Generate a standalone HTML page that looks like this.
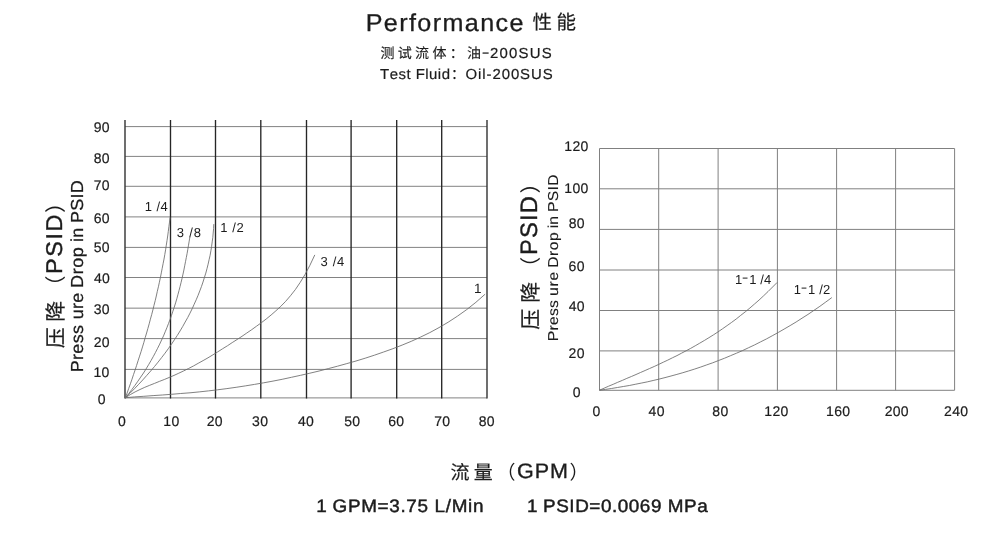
<!DOCTYPE html>
<html><head><meta charset="utf-8"><title>Performance</title>
<style>
html,body{margin:0;padding:0;background:#fff;}
svg{display:block;will-change:transform;}
text{font-family:"Liberation Sans",sans-serif;font-kerning:none;white-space:pre;text-rendering:geometricPrecision;}
text.cjk{font-family:"Liberation Sans","Noto Sans CJK SC",sans-serif;}
</style></head>
<body>
<svg width="1000" height="541" viewBox="0 0 1000 541">
<rect width="1000" height="541" fill="#fff"/>
<line x1="125.0" y1="126.6" x2="487.0" y2="126.6" stroke="#828282" stroke-width="1.0"/>
<line x1="125.0" y1="156.4" x2="487.0" y2="156.4" stroke="#828282" stroke-width="1.0"/>
<line x1="125.0" y1="186.3" x2="487.0" y2="186.3" stroke="#828282" stroke-width="1.0"/>
<line x1="125.0" y1="216.9" x2="487.0" y2="216.9" stroke="#828282" stroke-width="1.0"/>
<line x1="125.0" y1="247.4" x2="487.0" y2="247.4" stroke="#828282" stroke-width="1.0"/>
<line x1="125.0" y1="277.5" x2="487.0" y2="277.5" stroke="#828282" stroke-width="1.0"/>
<line x1="125.0" y1="308.15" x2="487.0" y2="308.15" stroke="#828282" stroke-width="1.0"/>
<line x1="125.0" y1="338.6" x2="487.0" y2="338.6" stroke="#828282" stroke-width="1.0"/>
<line x1="125.0" y1="369.4" x2="487.0" y2="369.4" stroke="#828282" stroke-width="1.0"/>
<line x1="125.0" y1="397.9" x2="487.0" y2="397.9" stroke="#828282" stroke-width="1.0"/>
<line x1="125.0" y1="120" x2="125.0" y2="398.6" stroke="#383838" stroke-width="1.45"/>
<line x1="170.5" y1="120" x2="170.5" y2="398.4" stroke="#262626" stroke-width="1.35"/>
<line x1="215.5" y1="120" x2="215.5" y2="398.4" stroke="#262626" stroke-width="1.35"/>
<line x1="260.8" y1="120" x2="260.8" y2="398.4" stroke="#262626" stroke-width="1.35"/>
<line x1="306.5" y1="120" x2="306.5" y2="398.4" stroke="#262626" stroke-width="1.35"/>
<line x1="351.1" y1="120" x2="351.1" y2="398.4" stroke="#262626" stroke-width="1.35"/>
<line x1="396.7" y1="120" x2="396.7" y2="398.4" stroke="#262626" stroke-width="1.35"/>
<line x1="441.7" y1="120" x2="441.7" y2="398.4" stroke="#262626" stroke-width="1.35"/>
<line x1="487.0" y1="120" x2="487.0" y2="398.6" stroke="#383838" stroke-width="1.45"/>
<path d="M125.4,397.7L127.1,393.1L128.7,388.5L130.4,383.8L132.0,379.2L133.5,374.6L135.1,370.0L136.6,365.4L138.1,360.7L139.6,356.1L141.1,351.5L142.5,346.9L143.9,342.3L145.2,337.6L146.6,333.0L147.9,328.4L149.2,323.8L150.4,319.2L151.7,314.5L152.9,309.9L154.0,305.3L155.2,300.7L156.3,296.0L157.3,291.4L158.4,286.8L159.4,282.2L160.4,277.6L161.3,272.9L162.2,268.3L163.1,263.7L164.0,259.1L164.8,254.5L165.6,249.8L166.3,245.2L167.0,240.6L167.7,236.0L168.3,231.4L168.9,226.7L169.5,222.1L170.1,217.5" fill="none" stroke="#6a6a6a" stroke-width="0.85" stroke-linejoin="round"/>
<path d="M125.4,397.7L128.7,393.6L131.9,389.5L135.0,385.3L137.9,381.2L140.7,377.1L143.5,373.0L146.1,368.9L148.6,364.7L151.0,360.6L153.3,356.5L155.5,352.4L157.6,348.3L159.7,344.1L161.6,340.0L163.5,335.9L165.2,331.8L166.9,327.7L168.5,323.5L170.1,319.4L171.5,315.3L172.9,311.2L174.3,307.0L175.6,302.9L176.8,298.8L177.9,294.7L179.0,290.6L180.1,286.4L181.1,282.3L182.1,278.2L183.0,274.1L183.9,270.0L184.7,265.8L185.5,261.7L186.3,257.6L187.1,253.5L187.8,249.4L188.5,245.2L189.2,241.1L189.9,237.0" fill="none" stroke="#6a6a6a" stroke-width="0.85" stroke-linejoin="round"/>
<path d="M125.4,397.7L130.0,393.2L134.4,388.8L138.7,384.3L142.8,379.9L146.8,375.4L150.7,371.0L154.5,366.5L158.1,362.1L161.6,357.6L165.0,353.2L168.3,348.7L171.4,344.3L174.4,339.8L177.3,335.4L180.1,330.9L182.7,326.5L185.2,322.0L187.7,317.6L190.0,313.1L192.2,308.7L194.2,304.2L196.2,299.8L198.1,295.3L199.8,290.9L201.5,286.4L203.0,282.0L204.4,277.5L205.8,273.1L207.0,268.6L208.1,264.2L209.1,259.7L210.1,255.3L210.9,250.8L211.6,246.4L212.2,241.9L212.8,237.5L213.2,233.0L213.6,228.6L213.8,224.1" fill="none" stroke="#6a6a6a" stroke-width="0.85" stroke-linejoin="round"/>
<path d="M125.4,397.7L130.3,394.6L135.1,391.9L140.0,389.5L144.8,387.3L149.7,385.3L154.5,383.4L159.4,381.4L164.3,379.5L169.1,377.5L174.0,375.4L178.8,373.2L183.7,370.9L188.5,368.5L193.4,366.0L198.2,363.3L203.1,360.6L208.0,357.8L212.8,354.9L217.7,351.9L222.5,348.8L227.4,345.8L232.2,342.6L237.1,339.5L242.0,336.3L246.8,333.0L251.7,329.7L256.5,326.2L261.4,322.7L266.2,319.0L271.1,315.0L275.9,310.8L280.8,306.3L285.7,301.3L290.5,295.7L295.4,289.5L300.2,282.4L305.1,274.4L309.9,265.3L314.8,254.9" fill="none" stroke="#6a6a6a" stroke-width="0.85" stroke-linejoin="round"/>
<path d="M125.4,397.7L134.6,396.9L143.8,396.3L153.1,395.6L162.3,395.0L171.5,394.3L180.7,393.5L190.0,392.8L199.2,391.9L208.4,390.9L217.6,389.8L226.9,388.6L236.1,387.3L245.3,385.9L254.5,384.4L263.7,382.8L273.0,381.1L282.2,379.3L291.4,377.3L300.6,375.3L309.9,373.2L319.1,371.0L328.3,368.6L337.5,366.2L346.8,363.6L356.0,361.0L365.2,358.2L374.4,355.2L383.6,352.0L392.9,348.7L402.1,345.1L411.3,341.3L420.5,337.1L429.8,332.6L439.0,327.6L448.2,322.2L457.4,316.2L466.7,309.6L475.9,302.3L485.1,294.2" fill="none" stroke="#6a6a6a" stroke-width="0.85" stroke-linejoin="round"/>
<text transform="translate(93.71,132.00) scale(1.0,1)" font-size="14" style="letter-spacing:0.300px" fill="#1c1c1c" stroke="#1c1c1c" stroke-width="0.2">90</text>
<text transform="translate(93.73,162.60) scale(1.0,1)" font-size="14" style="letter-spacing:0.300px" fill="#1c1c1c" stroke="#1c1c1c" stroke-width="0.2">80</text>
<text transform="translate(93.68,189.70) scale(1.0,1)" font-size="14" style="letter-spacing:0.300px" fill="#1c1c1c" stroke="#1c1c1c" stroke-width="0.2">70</text>
<text transform="translate(93.68,223.10) scale(1.0,1)" font-size="14" style="letter-spacing:0.300px" fill="#1c1c1c" stroke="#1c1c1c" stroke-width="0.2">60</text>
<text transform="translate(93.76,251.50) scale(1.0,1)" font-size="14" style="letter-spacing:0.300px" fill="#1c1c1c" stroke="#1c1c1c" stroke-width="0.2">50</text>
<text transform="translate(93.88,282.80) scale(1.0,1)" font-size="14" style="letter-spacing:0.300px" fill="#1c1c1c" stroke="#1c1c1c" stroke-width="0.2">40</text>
<text transform="translate(93.77,314.30) scale(1.0,1)" font-size="14" style="letter-spacing:0.300px" fill="#1c1c1c" stroke="#1c1c1c" stroke-width="0.2">30</text>
<text transform="translate(93.69,347.00) scale(1.0,1)" font-size="14" style="letter-spacing:0.300px" fill="#1c1c1c" stroke="#1c1c1c" stroke-width="0.2">20</text>
<text transform="translate(93.50,377.00) scale(1.0,1)" font-size="14" style="letter-spacing:0.300px" fill="#1c1c1c" stroke="#1c1c1c" stroke-width="0.2">10</text>
<text transform="translate(97.81,404.00) scale(1.0,1)" font-size="14" style="letter-spacing:0.300px" fill="#1c1c1c" stroke="#1c1c1c" stroke-width="0.2">0</text>
<text transform="translate(118.11,425.90) scale(1.0,1)" font-size="14" style="letter-spacing:0.300px" fill="#1c1c1c" stroke="#1c1c1c" stroke-width="0.2">0</text>
<text transform="translate(163.30,425.90) scale(1.0,1)" font-size="14" style="letter-spacing:0.300px" fill="#1c1c1c" stroke="#1c1c1c" stroke-width="0.2">10</text>
<text transform="translate(206.69,425.90) scale(1.0,1)" font-size="14" style="letter-spacing:0.300px" fill="#1c1c1c" stroke="#1c1c1c" stroke-width="0.2">20</text>
<text transform="translate(252.07,425.90) scale(1.0,1)" font-size="14" style="letter-spacing:0.300px" fill="#1c1c1c" stroke="#1c1c1c" stroke-width="0.2">30</text>
<text transform="translate(297.88,425.90) scale(1.0,1)" font-size="14" style="letter-spacing:0.300px" fill="#1c1c1c" stroke="#1c1c1c" stroke-width="0.2">40</text>
<text transform="translate(344.26,425.90) scale(1.0,1)" font-size="14" style="letter-spacing:0.300px" fill="#1c1c1c" stroke="#1c1c1c" stroke-width="0.2">50</text>
<text transform="translate(388.18,425.90) scale(1.0,1)" font-size="14" style="letter-spacing:0.300px" fill="#1c1c1c" stroke="#1c1c1c" stroke-width="0.2">60</text>
<text transform="translate(434.18,425.90) scale(1.0,1)" font-size="14" style="letter-spacing:0.300px" fill="#1c1c1c" stroke="#1c1c1c" stroke-width="0.2">70</text>
<text transform="translate(478.63,425.90) scale(1.0,1)" font-size="14" style="letter-spacing:0.300px" fill="#1c1c1c" stroke="#1c1c1c" stroke-width="0.2">80</text>
<text transform="translate(144.81,211.20) scale(1.0,1)" font-size="13" style="letter-spacing:0.429px;word-spacing:0.0px" fill="#1c1c1c">1 /4</text>
<text transform="translate(176.70,237.00) scale(1.0,1)" font-size="13" style="letter-spacing:0.859px;word-spacing:0.0px" fill="#1c1c1c">3 /8</text>
<text transform="translate(220.21,231.80) scale(1.0,1)" font-size="13" style="letter-spacing:0.587px;word-spacing:0.0px" fill="#1c1c1c">1 /2</text>
<text transform="translate(320.50,266.20) scale(1.0,1)" font-size="13" style="letter-spacing:0.664px;word-spacing:0.0px" fill="#1c1c1c">3 /4</text>
<text transform="translate(474.07,292.50) scale(1.0,1)" font-size="13.5" style="letter-spacing:0.000px;word-spacing:0.0px" fill="#1c1c1c">1</text>
<line x1="599.5" y1="148.5" x2="954.6" y2="148.5" stroke="#808080" stroke-width="1"/>
<line x1="599.5" y1="188.8" x2="954.6" y2="188.8" stroke="#808080" stroke-width="1"/>
<line x1="599.5" y1="229.4" x2="954.6" y2="229.4" stroke="#808080" stroke-width="1"/>
<line x1="599.5" y1="270.0" x2="954.6" y2="270.0" stroke="#808080" stroke-width="1"/>
<line x1="599.5" y1="310.5" x2="954.6" y2="310.5" stroke="#808080" stroke-width="1"/>
<line x1="599.5" y1="350.9" x2="954.6" y2="350.9" stroke="#808080" stroke-width="1"/>
<line x1="599.5" y1="390.3" x2="954.6" y2="390.3" stroke="#808080" stroke-width="1"/>
<line x1="599.5" y1="148.5" x2="599.5" y2="390.3" stroke="#808080" stroke-width="1"/>
<line x1="658.7" y1="148.5" x2="658.7" y2="390.3" stroke="#808080" stroke-width="1"/>
<line x1="718.1" y1="148.5" x2="718.1" y2="390.3" stroke="#808080" stroke-width="1"/>
<line x1="777.4" y1="148.5" x2="777.4" y2="390.3" stroke="#808080" stroke-width="1"/>
<line x1="836.6" y1="148.5" x2="836.6" y2="390.3" stroke="#808080" stroke-width="1"/>
<line x1="895.6" y1="148.5" x2="895.6" y2="390.3" stroke="#808080" stroke-width="1"/>
<line x1="954.6" y1="148.5" x2="954.6" y2="390.3" stroke="#808080" stroke-width="1"/>
<path d="M599.5,390.2L604.1,388.2L608.6,386.2L613.2,384.3L617.7,382.3L622.3,380.4L626.8,378.4L631.4,376.5L636.0,374.5L640.5,372.5L645.1,370.5L649.6,368.5L654.2,366.5L658.7,364.4L663.3,362.2L667.8,360.1L672.4,357.8L677.0,355.6L681.5,353.2L686.1,350.8L690.6,348.4L695.2,345.8L699.7,343.2L704.3,340.5L708.9,337.7L713.4,334.9L718.0,331.9L722.5,328.8L727.1,325.6L731.6,322.4L736.2,319.0L740.7,315.4L745.3,311.8L749.9,308.0L754.4,304.1L759.0,300.1L763.5,295.9L768.1,291.5L772.6,287.0L777.2,282.4" fill="none" stroke="#6a6a6a" stroke-width="0.85" stroke-linejoin="round"/>
<path d="M599.5,390.2L605.5,389.4L611.4,388.5L617.4,387.5L623.3,386.5L629.3,385.5L635.2,384.3L641.2,383.1L647.2,381.9L653.1,380.5L659.1,379.1L665.0,377.6L671.0,376.0L676.9,374.4L682.9,372.7L688.8,370.9L694.8,369.0L700.8,367.0L706.7,364.9L712.7,362.8L718.6,360.5L724.6,358.2L730.5,355.7L736.5,353.2L742.5,350.6L748.4,347.8L754.4,345.0L760.3,342.0L766.3,339.0L772.2,335.8L778.2,332.5L784.1,329.1L790.1,325.6L796.1,322.0L802.0,318.2L808.0,314.4L813.9,310.4L819.9,306.3L825.8,302.0L831.8,297.6" fill="none" stroke="#6a6a6a" stroke-width="0.85" stroke-linejoin="round"/>
<text transform="translate(564.36,150.70) scale(1.0,1)" font-size="14" style="letter-spacing:0.300px" fill="#1c1c1c" stroke="#1c1c1c" stroke-width="0.2">120</text>
<text transform="translate(564.36,193.30) scale(1.0,1)" font-size="14" style="letter-spacing:0.300px" fill="#1c1c1c" stroke="#1c1c1c" stroke-width="0.2">100</text>
<text transform="translate(568.63,228.20) scale(1.0,1)" font-size="14" style="letter-spacing:0.300px" fill="#1c1c1c" stroke="#1c1c1c" stroke-width="0.2">80</text>
<text transform="translate(568.58,271.00) scale(1.0,1)" font-size="14" style="letter-spacing:0.300px" fill="#1c1c1c" stroke="#1c1c1c" stroke-width="0.2">60</text>
<text transform="translate(568.78,310.70) scale(1.0,1)" font-size="14" style="letter-spacing:0.300px" fill="#1c1c1c" stroke="#1c1c1c" stroke-width="0.2">40</text>
<text transform="translate(568.59,358.00) scale(1.0,1)" font-size="14" style="letter-spacing:0.300px" fill="#1c1c1c" stroke="#1c1c1c" stroke-width="0.2">20</text>
<text transform="translate(572.71,396.50) scale(1.0,1)" font-size="14" style="letter-spacing:0.300px" fill="#1c1c1c" stroke="#1c1c1c" stroke-width="0.2">0</text>
<text transform="translate(592.41,415.90) scale(1.0,1)" font-size="14" style="letter-spacing:0.300px" fill="#1c1c1c" stroke="#1c1c1c" stroke-width="0.2">0</text>
<text transform="translate(648.58,415.90) scale(1.0,1)" font-size="14" style="letter-spacing:0.300px" fill="#1c1c1c" stroke="#1c1c1c" stroke-width="0.2">40</text>
<text transform="translate(712.33,415.90) scale(1.0,1)" font-size="14" style="letter-spacing:0.300px" fill="#1c1c1c" stroke="#1c1c1c" stroke-width="0.2">80</text>
<text transform="translate(764.36,415.90) scale(1.0,1)" font-size="14" style="letter-spacing:0.300px" fill="#1c1c1c" stroke="#1c1c1c" stroke-width="0.2">120</text>
<text transform="translate(826.06,415.90) scale(1.0,1)" font-size="14" style="letter-spacing:0.300px" fill="#1c1c1c" stroke="#1c1c1c" stroke-width="0.2">160</text>
<text transform="translate(884.64,415.90) scale(1.0,1)" font-size="14" style="letter-spacing:0.300px" fill="#1c1c1c" stroke="#1c1c1c" stroke-width="0.2">200</text>
<text transform="translate(944.04,415.90) scale(1.0,1)" font-size="14" style="letter-spacing:0.300px" fill="#1c1c1c" stroke="#1c1c1c" stroke-width="0.2">240</text>
<text x="734.90" y="283.9" font-size="13" fill="#1c1c1c">1</text>
<line x1="742.70" y1="278.10" x2="747.50" y2="278.10" stroke="#1c1c1c" stroke-width="1.0"/>
<text x="749.20" y="283.9" font-size="13" fill="#1c1c1c">1</text>
<text x="760.30" y="283.9" font-size="13" fill="#1c1c1c" style="letter-spacing:0.2px">/4</text>
<text x="793.80" y="293.9" font-size="13" fill="#1c1c1c">1</text>
<line x1="801.60" y1="288.10" x2="806.40" y2="288.10" stroke="#1c1c1c" stroke-width="1.0"/>
<text x="808.10" y="293.9" font-size="13" fill="#1c1c1c">1</text>
<text x="819.20" y="293.9" font-size="13" fill="#1c1c1c" style="letter-spacing:0.2px">/2</text>
<text transform="translate(365.64,30.70) scale(1.03,1)" font-size="24.4" style="letter-spacing:1.360px;word-spacing:0.0px" fill="#1c1c1c" stroke="#1c1c1c" stroke-width="0.3">Performance</text>
<text transform="translate(489.95,58.20) scale(1.03,1)" font-size="14.5" style="letter-spacing:1.186px;word-spacing:0.0px" fill="#1c1c1c" stroke="#1c1c1c" stroke-width="0.2">200SUS</text>
<text transform="translate(380.06,78.70) scale(1.03,1)" font-size="14.5" style="letter-spacing:0.467px;word-spacing:0.0px" fill="#1c1c1c" stroke="#1c1c1c" stroke-width="0.2">Test Fluid</text>
<text transform="translate(465.49,78.80) scale(1.03,1)" font-size="14.5" style="letter-spacing:0.900px;word-spacing:0.0px" fill="#1c1c1c" stroke="#1c1c1c" stroke-width="0.2">Oil-200SUS</text>
<text transform="translate(517.02,478.10) scale(1.03,1)" font-size="20.9" style="letter-spacing:0.929px;word-spacing:0.0px" fill="#1c1c1c" stroke="#1c1c1c" stroke-width="0.35">GPM</text>
<text transform="translate(316.16,511.50) scale(1.05,1)" font-size="18.0" style="letter-spacing:0.000px;word-spacing:0.0px" fill="#1c1c1c" stroke="#1c1c1c" stroke-width="0.45">1</text>
<text transform="translate(332.55,511.50) scale(1.05,1)" font-size="18.0" style="letter-spacing:0.625px;word-spacing:0.0px" fill="#1c1c1c" stroke="#1c1c1c" stroke-width="0.45">GPM=3.75 L/Min</text>
<text transform="translate(526.96,511.50) scale(1.05,1)" font-size="18.0" style="letter-spacing:0.000px;word-spacing:0.0px" fill="#1c1c1c" stroke="#1c1c1c" stroke-width="0.45">1</text>
<text transform="translate(543.05,511.50) scale(1.05,1)" font-size="18.0" style="letter-spacing:0.516px;word-spacing:0.0px" fill="#1c1c1c" stroke="#1c1c1c" stroke-width="0.45">PSID=0.0069 MPa</text>
<text transform="translate(62.30,273.93) rotate(-90) scale(1.03,1)" font-size="22.8" style="letter-spacing:1.469px;word-spacing:0.0px" fill="#1c1c1c" stroke="#1c1c1c" stroke-width="0.4">PSID</text>
<text transform="translate(82.50,372.28) rotate(-90) scale(1.035,1)" font-size="17.4" style="letter-spacing:0.313px;word-spacing:0.0px" fill="#1c1c1c" stroke="#1c1c1c" stroke-width="0.25">Press</text>
<text transform="translate(82.50,319.37) rotate(-90) scale(1.035,1)" font-size="17.4" style="letter-spacing:0.310px;word-spacing:0.0px" fill="#1c1c1c" stroke="#1c1c1c" stroke-width="0.25">ure</text>
<text transform="translate(82.50,287.88) rotate(-90) scale(1.035,1)" font-size="17.4" style="letter-spacing:0.515px;word-spacing:0.0px" fill="#1c1c1c" stroke="#1c1c1c" stroke-width="0.25">Drop</text>
<text transform="translate(82.50,242.00) rotate(-90) scale(1.035,1)" font-size="17.4" style="letter-spacing:0.152px;word-spacing:0.0px" fill="#1c1c1c" stroke="#1c1c1c" stroke-width="0.25">in</text>
<text transform="translate(82.50,223.08) rotate(-90) scale(1.035,1)" font-size="17.4" style="letter-spacing:0.292px;word-spacing:0.0px" fill="#1c1c1c" stroke="#1c1c1c" stroke-width="0.25">PSID</text>
<text transform="translate(537.30,254.95) rotate(-90) scale(1.0,1)" font-size="23.8" style="letter-spacing:1.081px;word-spacing:0.0px" fill="#1c1c1c" stroke="#1c1c1c" stroke-width="0.4">PSID</text>
<text transform="translate(557.80,341.19) rotate(-90) scale(1.09,1)" font-size="14.4" style="letter-spacing:0.237px;word-spacing:0.0px" fill="#1c1c1c" stroke="#1c1c1c" stroke-width="0.1">Press</text>
<text transform="translate(557.80,296.12) rotate(-90) scale(1.09,1)" font-size="14.4" style="letter-spacing:0.748px;word-spacing:0.0px" fill="#1c1c1c" stroke="#1c1c1c" stroke-width="0.1">ure</text>
<text transform="translate(557.80,267.79) rotate(-90) scale(1.09,1)" font-size="14.4" style="letter-spacing:0.497px;word-spacing:0.0px" fill="#1c1c1c" stroke="#1c1c1c" stroke-width="0.1">Drop</text>
<text transform="translate(557.80,228.25) rotate(-90) scale(1.09,1)" font-size="14.4" style="letter-spacing:-0.043px;word-spacing:0.0px" fill="#1c1c1c" stroke="#1c1c1c" stroke-width="0.1">in</text>
<text transform="translate(557.80,211.99) rotate(-90) scale(1.09,1)" font-size="14.4" style="letter-spacing:0.307px;word-spacing:0.0px" fill="#1c1c1c" stroke="#1c1c1c" stroke-width="0.1">PSID</text>
<text class="cjk" x="532.5" y="29" font-size="19.5" style="letter-spacing:4.6px" fill="#1c1c1c" stroke="#1c1c1c" stroke-width="0.2">性能</text>
<text class="cjk" x="380.5" y="57.7" font-size="14" style="letter-spacing:3.3px" fill="#1c1c1c" stroke="#1c1c1c" stroke-width="0.15">测试流体：油</text>
<text transform="translate(481.8,56.5) scale(1.6,1)" font-size="14.5" fill="#1c1c1c" stroke="#1c1c1c" stroke-width="0.15">-</text>
<text class="cjk" x="451" y="78.5" font-size="14" fill="#1c1c1c" stroke="#1c1c1c" stroke-width="0.15">：</text>
<text class="cjk" x="450.5" y="479" font-size="19" style="letter-spacing:4.2px" fill="#1c1c1c" stroke="#1c1c1c" stroke-width="0.2">流量</text>
<text class="cjk" x="496.5" y="479" font-size="19" fill="#1c1c1c">（</text>
<text class="cjk" x="569.5" y="479" font-size="19" fill="#1c1c1c">）</text>
<text class="cjk" transform="translate(62.8,348.3) rotate(-90)" font-size="21" style="letter-spacing:5.5px" fill="#1c1c1c" stroke="#1c1c1c" stroke-width="0.2">压降</text>
<text class="cjk" transform="translate(62.8,296.4) rotate(-90)" font-size="21" fill="#1c1c1c">（</text>
<text class="cjk" transform="translate(62.8,212.9) rotate(-90)" font-size="21" fill="#1c1c1c">）</text>
<text class="cjk" transform="translate(537.6,329.8) rotate(-90)" font-size="21" style="letter-spacing:6px" fill="#1c1c1c" stroke="#1c1c1c" stroke-width="0.2">压降</text>
<text class="cjk" transform="translate(537.6,277.8) rotate(-90)" font-size="21" fill="#1c1c1c">（</text>
<text class="cjk" transform="translate(537.6,193.4) rotate(-90)" font-size="21" fill="#1c1c1c">）</text>
</svg>
</body></html>
